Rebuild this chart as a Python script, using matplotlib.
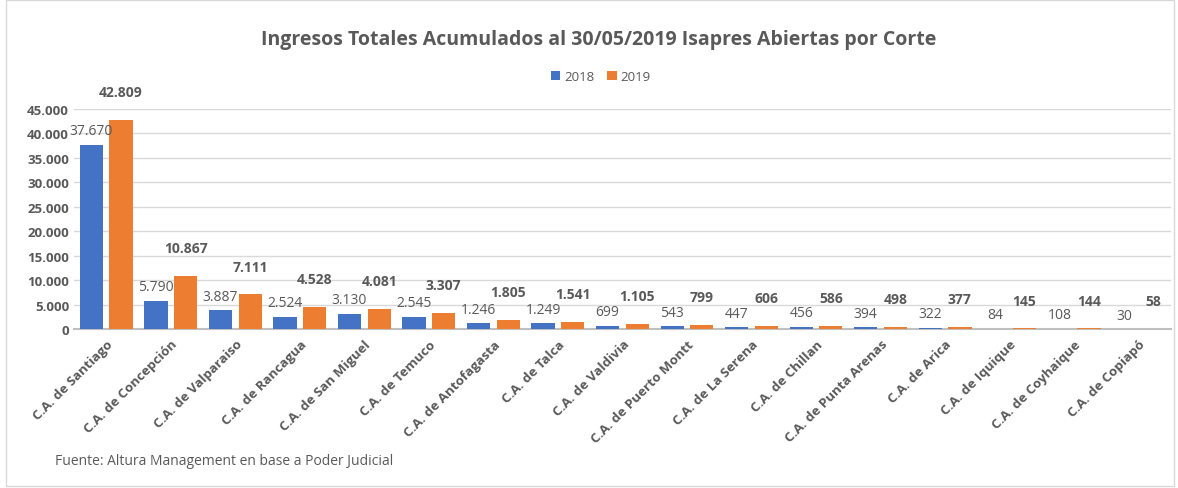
import matplotlib.pyplot as plt
import numpy as np
from matplotlib.patches import Rectangle

plt.rcParams['font.family'] = ['Open Sans', 'DejaVu Sans']

# Data
cortes = ["C.A. de Santiago", "C.A. de Concepción", "C.A. de Valparaiso", "C.A. de Rancagua",
          "C.A. de San Miguel", "C.A. de Temuco", "C.A. de Antofagasta", "C.A. de Talca",
          "C.A. de Valdivia", "C.A. de Puerto Montt", "C.A. de La Serena", "C.A. de Chillan",
          "C.A. de Punta Arenas", "C.A. de Arica", "C.A. de Iquique", "C.A. de Coyhaique",
          "C.A. de Copiapó"]
ingresos_2018 = [37670, 5790, 3887, 2524, 3130, 2545, 1246, 1249, 699, 543, 447, 456, 394, 322, 84, 108, 30]
ingresos_2019 = [42809, 10867, 7111, 4528, 4081, 3307, 1805, 1541, 1105, 799, 606, 586, 498, 377, 145, 144, 58]
yticks = np.arange(0, 45001, 5000)

blue = "#4472C4"
orange = "#ED7D31"
gray = "#595959"


def fmt(v):
    # thousands separator with a dot
    return f"{v:,}".replace(",", ".")


fig = plt.figure(figsize=(11.78, 4.89), dpi=100)
ax = fig.add_axes([0.0628, 0.325, 0.9312, 0.45])

x = np.arange(len(cortes))
w = 0.36
b1 = ax.bar(x - 0.23, ingresos_2018, w, color=blue, label="2018", zorder=3)
b2 = ax.bar(x + 0.23, ingresos_2019, w, color=orange, label="2019", zorder=3)

for r, v in zip(b1, ingresos_2018):
    ax.annotate(fmt(v), (r.get_x() + r.get_width() / 2, r.get_height()),
                xytext=(0, 10), textcoords="offset points", ha="center", va="center",
                fontsize=10, color=gray, annotation_clip=False)
for r, v in zip(b2, ingresos_2019):
    ax.annotate(fmt(v), (r.get_x() + r.get_width() / 2, r.get_height()),
                xytext=(0, 20), textcoords="offset points", ha="center", va="center",
                fontsize=10, color=gray, fontweight="bold", annotation_clip=False)

ax.set_xlim(-0.5, len(cortes) - 0.5)
ax.set_ylim(0, 45000)
ax.set_yticks(yticks)
ax.set_yticklabels([fmt(v) for v in yticks], fontsize=9.5, fontweight="bold", color=gray)
ax.set_xticks(x)
ax.set_xticklabels(cortes, rotation=45, ha="right", rotation_mode="anchor",
                   fontsize=9.6, fontweight="bold", color=gray)
ax.tick_params(length=0)
ax.tick_params(axis="x", pad=6)
ax.grid(axis="y", color="#D9D9D9", linewidth=1, zorder=0)
for s in ["top", "right", "left"]:
    ax.spines[s].set_visible(False)
ax.spines["bottom"].set_color("#BFBFBF")
ax.spines["bottom"].set_linewidth(1.5)

fig.text(0.508, 0.918, "Ingresos Totales Acumulados al 30/05/2019 Isapres Abiertas por Corte",
         ha="center", va="center", fontsize=14, fontweight="bold", color=gray)
fig.legend(loc="center", bbox_to_anchor=(0.51, 0.842), ncol=2, frameon=False,
           fontsize=9.5, handlelength=0.7, handleheight=0.7, handletextpad=0.3,
           columnspacing=1.0, labelcolor=gray)
fig.text(0.047, 0.057, "Fuente: Altura Management en base a Poder Judicial",
         ha="left", va="center", fontsize=10, color=gray)

fig.patches.append(Rectangle((0.005, 0.004), 0.992, 0.994, transform=fig.transFigure,
                             fill=False, edgecolor="#D9D9D9", linewidth=1))

fig.savefig("out.png", dpi=100)
